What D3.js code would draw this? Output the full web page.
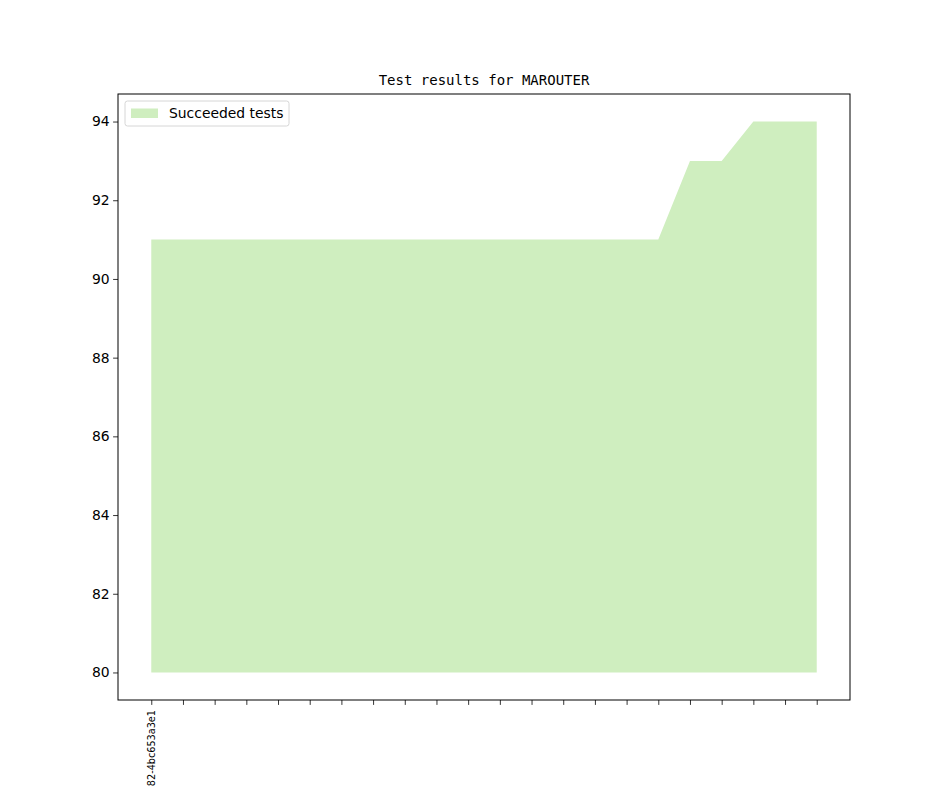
<!DOCTYPE html>
<html>
<head>
<meta charset="utf-8">
<script src="https://cdn.jsdelivr.net/npm/d3@7/dist/d3.min.js"></script>
<style>
  body { margin: 0; background: #fff; }
  svg { display: block; }
</style>
</head>
<body>
<div id="chart"></div>
<script>
const WIDTH = 944
const HEIGHT = 787

// One entry per commit, only the first one carries a visible label
const commitLabels = ["82-4bc653a3e1", "", "", "", "", "", "", "", "", "", "",
  "", "", "", "", "", "", "", "", "", "", ""]
const succeeded = [91, 91, 91, 91, 91, 91, 91, 91, 91, 91, 91,
  91, 91, 91, 91, 91, 91, 93, 93, 94, 94, 94]
const baseline = 80
const yTicks = [80, 82, 84, 86, 88, 90, 92, 94]

const margin = { top: 94, right: 94, bottom: 87, left: 118 }
const plotW = WIDTH - margin.left - margin.right
const plotH = HEIGHT - margin.top - margin.bottom

const svg = d3.select("#chart")
  .append("svg")
  .attr("width", WIDTH)
  .attr("height", HEIGHT)

const n = succeeded.length
const xPad = (n - 1) * 0.05
const x = d3.scaleLinear()
  .domain([-xPad, n - 1 + xPad])
  .range([0, plotW])

const yMin = baseline
const yMax = d3.max(succeeded)
const yPad = (yMax - yMin) * 0.05
const y = d3.scaleLinear()
  .domain([yMin - yPad, yMax + yPad])
  .range([plotH, 0])

const g = svg.append("g")
  .attr("transform", `translate(${margin.left},${margin.top})`)

// Filled area between baseline and succeeded count
const area = d3.area()
  .x((d, i) => x(i))
  .y0(y(baseline))
  .y1(d => y(d))

g.append("path")
  .datum(succeeded)
  .attr("d", area)
  .attr("fill", "#cfeebf")

// Axes
const xAxis = d3.axisBottom(x)
  .tickValues(d3.range(n))
  .tickFormat(i => commitLabels[i])
  .tickSize(4.9)
  .tickPadding(3.5)

const xg = g.append("g")
  .attr("transform", `translate(0,${plotH})`)
  .call(xAxis)
xg.select(".domain").remove()
xg.selectAll("line").attr("stroke", "#000").attr("stroke-width", 0.8)
xg.selectAll("text")
  .attr("transform", "rotate(-90)")
  .attr("text-anchor", "end")
  .attr("x", -10)
  .attr("y", 0)
  .attr("dy", "0.35em")
  .attr("font-family", "DejaVu Sans")
  .attr("font-size", "9.7px")
  .attr("fill", "#000")

const yAxis = d3.axisLeft(y)
  .tickValues(yTicks)
  .tickSize(4.9)
  .tickPadding(3.5)

const yg = g.append("g").call(yAxis)
yg.select(".domain").remove()
yg.selectAll("line").attr("stroke", "#000").attr("stroke-width", 0.8)
yg.selectAll("text")
  .attr("font-family", "DejaVu Sans")
  .attr("font-size", "13.9px")
  .attr("fill", "#000")

// Frame
g.append("rect")
  .attr("width", plotW)
  .attr("height", plotH)
  .attr("fill", "none")
  .attr("stroke", "#000")
  .attr("stroke-width", 1)

// Title
svg.append("text")
  .attr("x", margin.left + plotW / 2)
  .attr("y", margin.top - 9)
  .attr("text-anchor", "middle")
  .attr("font-family", "DejaVu Sans Mono")
  .attr("font-size", "14px")
  .attr("fill", "#000")
  .text("Test results for MAROUTER")

// Legend
const lg = g.append("g").attr("transform", "translate(7,7)")
lg.append("rect")
  .attr("width", 164)
  .attr("height", 25)
  .attr("rx", 2.5)
  .attr("fill", "#fff")
  .attr("fill-opacity", 0.8)
  .attr("stroke", "#ccc")
  .attr("stroke-width", 0.8)
lg.append("rect")
  .attr("x", 6)
  .attr("y", 7.5)
  .attr("width", 27)
  .attr("height", 9.5)
  .attr("fill", "#cfeebf")
lg.append("text")
  .attr("x", 44)
  .attr("y", 12.5)
  .attr("dy", "0.35em")
  .attr("font-family", "DejaVu Sans")
  .attr("font-size", "13.9px")
  .attr("fill", "#000")
  .text("Succeeded tests")
</script>
</body>
</html>
